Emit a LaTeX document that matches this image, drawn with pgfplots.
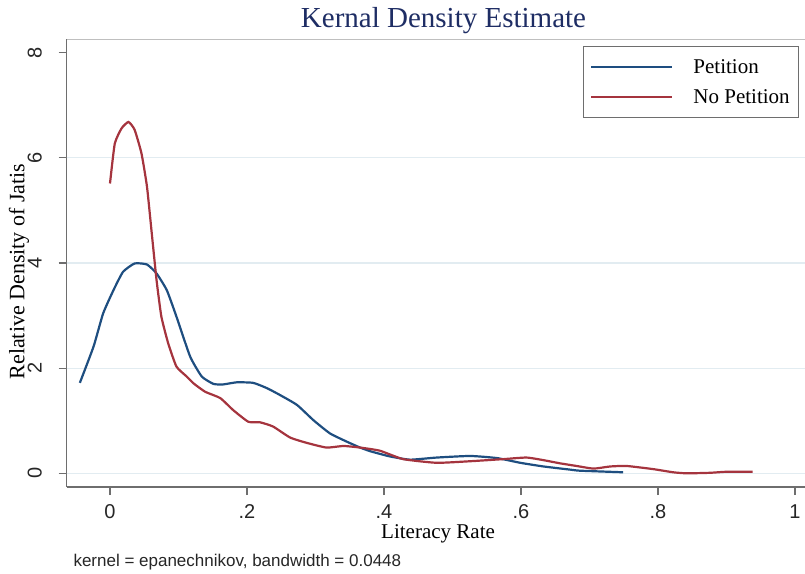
\documentclass[border=0pt]{standalone}
\usepackage{pgfplots}
\pgfplotsset{compat=1.18}
\usepackage{fontspec}
\setmainfont{Liberation Serif}
\newfontfamily\arial{Liberation Sans}
\definecolor{stnavy}{RGB}{30,78,128}
\definecolor{stmaroon}{RGB}{165,52,62}
\definecolor{sttitle}{RGB}{30,45,100}
\definecolor{stgrid}{RGB}{226,236,241}
\definecolor{staxis}{RGB}{110,110,110}
\begin{document}
\begin{tikzpicture}
	\path[use as bounding box] (-66.7pt,-86pt) rectangle (738.3pt,487pt);
	\begin{axis}[
		width=738.3pt, height=448pt, scale only axis,
		xmin=-0.0632, xmax=1.0146, ymin=-0.26, ymax=8.257,
		axis x line*=bottom, axis y line*=left,
		axis line style={staxis, line width=1.6pt},
		xtick={0,0.2,0.4,0.6,0.8,1},
		ytick={0,2,4,6,8},
		extra y ticks={0,2,4,6},
		extra y tick style={grid=major, major tick length=0pt, yticklabels={}},
		grid style={stgrid, line width=1.2pt},
		tick align=outside, major tick length=8pt,
		tick style={staxis, line width=1.2pt},
		/pgf/number format/assume math mode=true,
		/pgf/number format/skip 0.=true,
		ticklabel style={font=\arial\fontsize{20}{20}\selectfont, text=black!85},
		xticklabel style={anchor=center, yshift=-17pt},
		yticklabel style={rotate=90, anchor=center, yshift=24pt},
		title={Kernal Density Estimate},
		title style={font=\fontsize{29}{29}\selectfont, text=sttitle, at={(axis description cs:0.5104,1)}, anchor=center, yshift=12pt},
		xlabel={Literacy Rate},
		xlabel style={font=\fontsize{21}{21}\selectfont, at={(axis description cs:0.503,0)}, anchor=center, yshift=-47pt},
		ylabel={Relative Density of Jatis},
		ylabel style={font=\fontsize{22}{22}\selectfont, at={(axis description cs:0,0.481)}, anchor=center, yshift=47.7pt},
		legend style={at={(0.699,0.984)}, anchor=north west, draw=staxis, line width=1pt,
			font=\fontsize{21}{21}\selectfont, inner xsep=7pt, inner ysep=11pt,
			row sep=10.5pt, column sep=18pt, cells={anchor=west}},
		legend image code/.code={\draw[#1, line width=2.2pt] (0pt,0pt) -- (81pt,0pt);},
		]
		\addplot[stnavy, line width=2.2pt, smooth, tension=0.3] coordinates {
			(-0.044,1.72) (-0.024,2.41) (-0.010,3.04) (0.005,3.48) (0.019,3.83)
			(0.036,3.99) (0.054,3.97) (0.068,3.80) (0.083,3.48) (0.097,2.98)
			(0.117,2.22) (0.134,1.84) (0.151,1.70) (0.165,1.69) (0.185,1.73)
			(0.209,1.72) (0.229,1.62) (0.248,1.49) (0.273,1.30) (0.297,1.01)
			(0.321,0.76) (0.346,0.60) (0.365,0.49) (0.380,0.42) (0.394,0.37)
			(0.409,0.32) (0.438,0.26) (0.477,0.30) (0.526,0.33) (0.565,0.29)
			(0.599,0.20) (0.633,0.13) (0.672,0.07) (0.686,0.05) (0.749,0.02)
		};
		\addlegendentry{Petition}
		\addplot[stmaroon, line width=2.2pt, smooth, tension=0.3] coordinates {
			(0.000,5.51) (0.007,6.27) (0.017,6.56) (0.027,6.68) (0.036,6.53)
			(0.046,6.08) (0.054,5.45) (0.061,4.56) (0.068,3.67) (0.075,2.98)
			(0.085,2.47) (0.097,2.03) (0.112,1.84) (0.122,1.71) (0.139,1.55)
			(0.161,1.43) (0.180,1.20) (0.202,0.98) (0.219,0.97) (0.238,0.89)
			(0.263,0.68) (0.287,0.58) (0.316,0.49) (0.341,0.52) (0.365,0.49)
			(0.394,0.43) (0.428,0.27) (0.477,0.20) (0.526,0.23) (0.574,0.27)
			(0.608,0.30) (0.633,0.25) (0.657,0.19) (0.681,0.14) (0.706,0.09)
			(0.730,0.13) (0.754,0.14) (0.793,0.08) (0.822,0.02) (0.842,0.00)
			(0.876,0.01) (0.900,0.03) (0.938,0.03)
		};
		\addlegendentry{No Petition}
		\draw[black!25, line width=0.8pt] (rel axis cs:0,1) -- (rel axis cs:1,1);
	\end{axis}
	\node[anchor=west, font=\arial\fontsize{17}{17}\selectfont, text=black!85] at (3.3pt,-74.7pt) {kernel = epanechnikov, bandwidth = 0.0448};
\end{tikzpicture}
\end{document}
